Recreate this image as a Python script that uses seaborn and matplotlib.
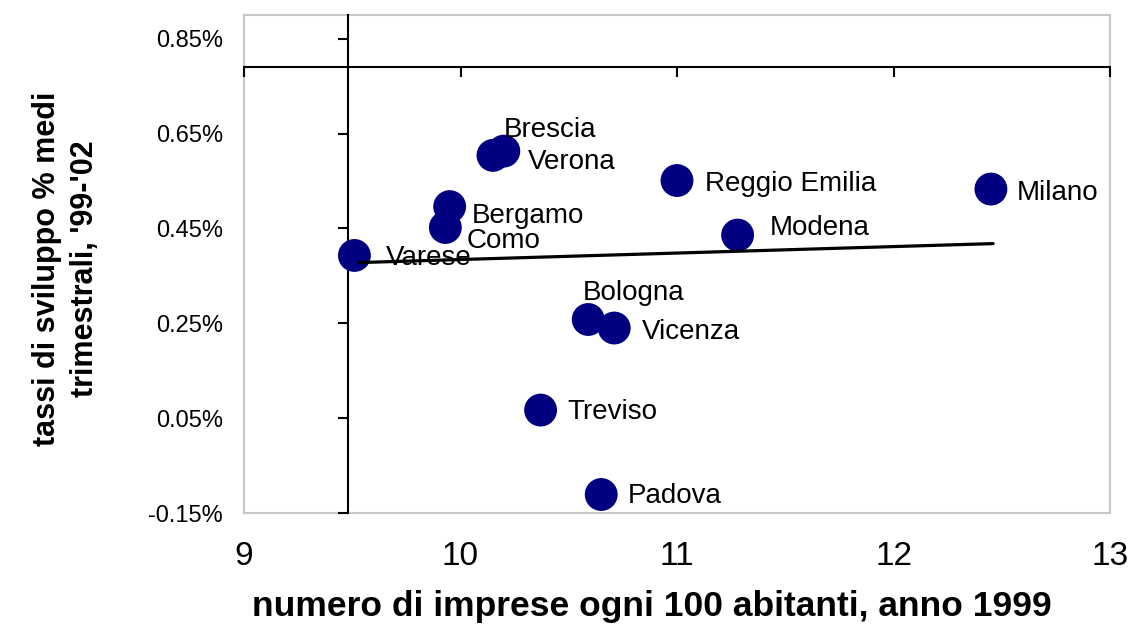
import matplotlib
matplotlib.use('Agg')
import matplotlib.pyplot as plt
import seaborn as sns
import pandas as pd
from matplotlib.patches import Rectangle
from matplotlib.ticker import FuncFormatter

# dati
citta = ['Varese', 'Como', 'Bergamo', 'Brescia', 'Verona', 'Reggio Emilia',
         'Modena', 'Milano', 'Bologna', 'Vicenza', 'Treviso', 'Padova']
imprese = [9.51, 9.93, 9.95, 10.20, 10.15, 11.00, 11.28, 12.45, 10.59, 10.71, 10.37, 10.65]
sviluppo = [0.393, 0.452, 0.496, 0.613, 0.604, 0.551, 0.436, 0.533, 0.258, 0.240, 0.067, -0.111]
trend_x = [9.53, 12.46]
trend_y = [0.378, 0.418]
x_ticks = [9, 10, 11, 12, 13]
y_ticks = [-0.15, 0.05, 0.25, 0.45, 0.65, 0.85]
incrocio_x = 9.48
incrocio_y = 0.79

# spostamento etichette in pixel
offset = {'Varese': (31, -3), 'Como': (21, -14), 'Bergamo': (22, -9),
          'Brescia': (0, 21), 'Verona': (35, -7), 'Reggio Emilia': (28, -3),
          'Modena': (32, 7), 'Milano': (26, -4), 'Bologna': (-5, 26),
          'Vicenza': (28, -4), 'Treviso': (27, -2), 'Padova': (27, -1)}

df = pd.DataFrame({'citta': citta, 'imprese': imprese, 'sviluppo': sviluppo})

sns.set_style('white')
plt.rcParams['font.family'] = ['Liberation Sans', 'DejaVu Sans']
plt.rcParams['text.color'] = 'black'
plt.rcParams['axes.labelcolor'] = 'black'
plt.rcParams['xtick.color'] = 'black'
plt.rcParams['ytick.color'] = 'black'

fig = plt.figure(figsize=(11.31, 6.24), dpi=100)
pos = [244 / 1131, 1 - 513 / 624, 866 / 1131, 498 / 624]

# assi che si incrociano + cornice grigia
ax_assi = fig.add_axes(pos)
ax_assi.set_xlim(9, 13)
ax_assi.set_ylim(-0.15, 0.90)
ax_assi.set_xticks(x_ticks)
ax_assi.set_yticks(y_ticks)
ax_assi.add_patch(Rectangle((0, 0), 1, 1, transform=ax_assi.transAxes, fill=False,
                            edgecolor='#c8c8c8', linewidth=1.5, zorder=0.5, clip_on=False))
ax_assi.spines['left'].set_position(('data', incrocio_x))
ax_assi.spines['bottom'].set_position(('data', incrocio_y))
ax_assi.spines['top'].set_visible(False)
ax_assi.spines['right'].set_visible(False)
for s in ['left', 'bottom']:
    ax_assi.spines[s].set_color('black')
    ax_assi.spines[s].set_linewidth(1.5)
ax_assi.tick_params(direction='out', length=7, width=1.5, color='black',
                    left=True, bottom=True, labelleft=False, labelbottom=False)

# grafico principale
ax = fig.add_axes(pos)
ax.patch.set_visible(False)
ax.set_xlim(9, 13)
ax.set_ylim(-0.15, 0.90)
for s in ax.spines.values():
    s.set_visible(False)

sns.scatterplot(data=df, x='imprese', y='sviluppo', ax=ax, s=560,
                color='#000080', edgecolor='none', zorder=2, legend=False)
sns.lineplot(x=trend_x, y=trend_y, ax=ax, color='black', linewidth=2.3, zorder=3)

for c, xv, yv in zip(citta, imprese, sviluppo):
    dx, dy = offset[c]
    ax.annotate(c, (xv, yv), xytext=(dx, dy), textcoords='offset pixels',
                ha='left', va='center', fontsize=20, color='black', zorder=4)

ax.set_xticks(x_ticks)
ax.set_yticks(y_ticks)
ax.yaxis.set_major_formatter(FuncFormatter(lambda v, p: f'{v:.2f}%'))
ax.tick_params(axis='y', length=0, labelsize=17, pad=15)
ax.tick_params(axis='x', length=0, labelsize=24, pad=20)

ax.set_xlabel('numero di imprese ogni 100 abitanti, anno 1999',
              fontsize=25.5, fontweight='bold')
ax.xaxis.set_label_coords(0.471, -0.155)
ax.set_ylabel("tassi di sviluppo % medi\ntrimestrali, '99-'02",
              fontsize=22, fontweight='bold', linespacing=1.35)
ax.yaxis.set_label_coords(-0.166, 0.49)

fig.savefig('out.png', dpi=100)
